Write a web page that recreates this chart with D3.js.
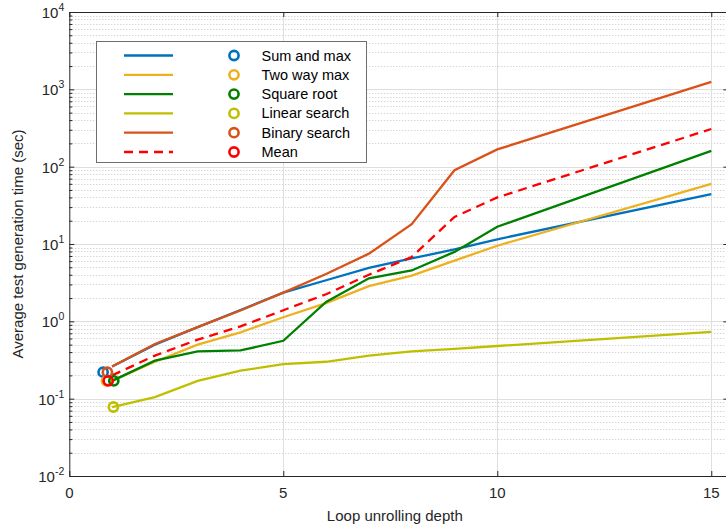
<!DOCTYPE html>
<html>
<head>
<meta charset="utf-8">
<script src="https://cdn.jsdelivr.net/npm/d3@7"></script>
<style>
  body { margin: 0; background: #fff; }
  svg { display: block; font-family: "Liberation Sans", Arial, sans-serif; }
  .tick-label { fill: #262626; font-size: 15px; }
</style>
</head>
<body>
<svg width="726" height="528"></svg>
<script>
// loop unrolling depth (x values)
var depth = [1, 2, 3, 4, 5, 6, 7, 8, 9, 10, 15];

// average test generation time (sec)
var sumMax       = [0.26, 0.50, 0.84, 1.40, 2.35, 3.4, 4.9, 6.5, 8.5, 11.5, 44];
var twoWayMax    = [0.17, 0.30, 0.50, 0.72, 1.13, 1.72, 2.85, 3.9, 6.1, 9.5, 60];
var squareRoot   = [0.17, 0.31, 0.41, 0.42, 0.56, 1.78, 3.6, 4.55, 7.9, 16.7, 160];
var linearSearch = [0.078, 0.105, 0.17, 0.23, 0.28, 0.30, 0.36, 0.41, 0.44, 0.48, 0.73];
var binarySearch = [0.26, 0.51, 0.84, 1.38, 2.35, 4.1, 7.5, 18, 90, 167, 1250];
var meanTime     = [0.20, 0.36, 0.58, 0.86, 1.39, 2.24, 4.0, 6.8, 22.4, 40, 307];

// start markers (circles) for each series
var markerX = [0.79, 0.87, 1.04, 1.03, 0.89, 0.91];
var markerY = [0.22, 0.17, 0.17, 0.078, 0.22, 0.17];

var seriesNames = ['Sum and max', 'Two way max', 'Square root', 'Linear search', 'Binary search', 'Mean'];
var seriesValues = [sumMax, twoWayMax, squareRoot, linearSearch, binarySearch, meanTime];
var seriesColors = ['#0072BD', '#EDB120', '#008000', '#BFBF00', '#D95319', '#FF0000'];
var seriesDash = [null, null, null, null, null, '9,6'];

var xTicks = [0, 5, 10, 15];
var yDecades = [-2, -1, 0, 1, 2, 3, 4];

var svg = d3.select('svg');

var plot = {l: 69.3, r: 728.4, t: 12, b: 476};

var x = d3.scaleLinear().domain([0, 15.4]).range([plot.l, plot.r]);
var y = d3.scaleLog().domain([0.01, 10000]).range([plot.b, plot.t]);

// minor values on the log axis: 2..9 in every decade
var minors = [];
yDecades.slice(0, -1).forEach(function(e) {
    for (var k = 2; k <= 9; k++) minors.push(k * Math.pow(10, e));
});
var majors = yDecades.map(function(e) { return Math.pow(10, e); });

var gridG = svg.append('g');

// minor grid, dotted
gridG.selectAll('.minor-grid')
    .data(minors)
    .enter()
    .append('line')
    .attr('class', 'minor-grid')
    .attr('x1', plot.l).attr('x2', plot.r)
    .attr('y1', function(d) { return Math.round(y(d)) + 0.5; })
    .attr('y2', function(d) { return Math.round(y(d)) + 0.5; })
    .attr('stroke', '#c4c4c4')
    .attr('stroke-dasharray', '1,2');

// major grid
gridG.selectAll('.major-grid')
    .data(majors)
    .enter()
    .append('line')
    .attr('x1', plot.l).attr('x2', plot.r)
    .attr('y1', function(d) { return Math.round(y(d)) + 0.5; })
    .attr('y2', function(d) { return Math.round(y(d)) + 0.5; })
    .attr('stroke', '#dfdfdf');

gridG.selectAll('.x-grid')
    .data(xTicks.slice(1))
    .enter()
    .append('line')
    .attr('x1', function(d) { return Math.round(x(d)) + 0.5; })
    .attr('x2', function(d) { return Math.round(x(d)) + 0.5; })
    .attr('y1', plot.t).attr('y2', plot.b)
    .attr('stroke', '#dfdfdf');

// axes (ticks pointing inward like matlab)
var axisColor = '#262626';

function styleAxis(g) {
    g.select('.domain').attr('stroke', axisColor);
    g.selectAll('.tick line').attr('stroke', axisColor);
    g.selectAll('.tick text').remove();
}

svg.append('g')
    .attr('transform', 'translate(0,' + plot.b + ')')
    .call(d3.axisBottom(x).tickValues(xTicks).tickSize(-5).tickSizeOuter(0))
    .call(styleAxis);

svg.append('g')
    .attr('transform', 'translate(0,' + plot.t + ')')
    .call(d3.axisTop(x).tickValues(xTicks).tickSize(-5).tickSizeOuter(0))
    .call(styleAxis);

svg.append('g')
    .attr('transform', 'translate(' + plot.l + ',0)')
    .call(d3.axisLeft(y).tickValues(majors).tickSize(-5).tickSizeOuter(0))
    .call(styleAxis);

svg.append('g')
    .attr('transform', 'translate(' + plot.l + ',0)')
    .call(d3.axisLeft(y).tickValues(minors).tickSize(-3).tickSizeOuter(0))
    .call(styleAxis)
    .select('.domain').remove();

svg.append('g')
    .attr('transform', 'translate(' + plot.r + ',0)')
    .call(d3.axisRight(y).tickValues(majors).tickSize(-5).tickSizeOuter(0))
    .call(styleAxis);

// x tick labels
svg.selectAll('.x-label')
    .data(xTicks)
    .enter()
    .append('text')
    .attr('class', 'tick-label')
    .attr('x', function(d) { return x(d); })
    .attr('y', plot.b + 22)
    .attr('text-anchor', 'middle')
    .text(function(d) { return d; });

// y tick labels 10^n
var yLab = svg.selectAll('.y-label')
    .data(yDecades)
    .enter()
    .append('text')
    .attr('class', 'tick-label')
    .attr('x', plot.l - 5)
    .attr('y', function(d) { return y(Math.pow(10, d)) + 6; })
    .attr('text-anchor', 'end');
yLab.append('tspan').text('10');
yLab.append('tspan')
    .attr('dy', -7)
    .attr('font-size', '10.5px')
    .text(function(d) { return d; });

// axis titles
svg.append('text')
    .attr('x', (plot.l + x(15.4)) / 2 - 4)
    .attr('y', 521)
    .attr('text-anchor', 'middle')
    .attr('fill', axisColor)
    .attr('font-size', '15px')
    .text('Loop unrolling depth');

svg.append('text')
    .attr('transform', 'translate(23,' + ((plot.t + plot.b) / 2) + ') rotate(-90)')
    .attr('text-anchor', 'middle')
    .attr('fill', axisColor)
    .attr('font-size', '15px')
    .text('Average test generation time (sec)');

// series lines
var line = d3.line()
    .x(function(d) { return x(d[0]); })
    .y(function(d) { return y(d[1]); });

var linesG = svg.append('g');
seriesValues.forEach(function(vals, i) {
    linesG.append('path')
        .datum(depth.map(function(dx, j) { return [dx, vals[j]]; }))
        .attr('d', line)
        .attr('fill', 'none')
        .attr('stroke', seriesColors[i])
        .attr('stroke-width', 2.3)
        .attr('stroke-dasharray', seriesDash[i]);
});

// start markers
linesG.selectAll('.marker')
    .data(seriesNames)
    .enter()
    .append('circle')
    .attr('cx', function(d, i) { return x(markerX[i]); })
    .attr('cy', function(d, i) { return y(markerY[i]); })
    .attr('r', 4.6)
    .attr('fill', 'none')
    .attr('stroke', function(d, i) { return seriesColors[i]; })
    .attr('stroke-width', 2.6);

// legend
var legend = {x: 96.5, y: 41.5, w: 270, h: 121, row: 19.3};
var legendG = svg.append('g');
legendG.append('rect')
    .attr('x', legend.x).attr('y', legend.y)
    .attr('width', legend.w).attr('height', legend.h)
    .attr('fill', '#fff')
    .attr('stroke', '#6e6e6e');

var rows = legendG.selectAll('.legend-row')
    .data(seriesNames)
    .enter()
    .append('g')
    .attr('transform', function(d, i) {
        return 'translate(0,' + (55.5 + i * legend.row) + ')';
    });

rows.append('line')
    .attr('x1', 124).attr('x2', 173)
    .attr('stroke', function(d, i) { return seriesColors[i]; })
    .attr('stroke-width', 2.3)
    .attr('stroke-dasharray', function(d, i) { return seriesDash[i]; });

rows.append('circle')
    .attr('cx', 234)
    .attr('r', 4.6)
    .attr('fill', 'none')
    .attr('stroke', function(d, i) { return seriesColors[i]; })
    .attr('stroke-width', 2.6);

rows.append('text')
    .attr('x', 261.5)
    .attr('y', 5)
    .attr('font-size', '14.5px')
    .attr('fill', '#000')
    .text(function(d) { return d; });
</script>
</body>
</html>
